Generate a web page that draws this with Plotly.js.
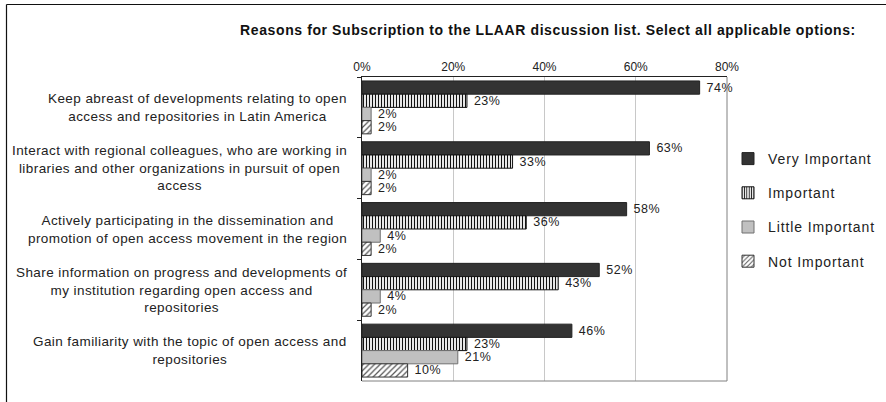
<!DOCTYPE html>
<html>
<head>
<meta charset="utf-8">
<script src="https://cdn.plot.ly/plotly-3.0.1.min.js"></script>
<style>
html,body{margin:0;padding:0;background:#fff;}
#chart{width:886px;height:402px;}
.annotation-text{letter-spacing:0.42px;}
.legendtext{letter-spacing:0.9px;}
.gtitle{letter-spacing:0.6px;}
.bartext{letter-spacing:0.5px;}
</style>
</head>
<body>
<div id="chart"></div>
<script>
const categories = [
  "Keep abreast of developments relating to open<br>access and repositories in Latin America",
  "Interact with regional colleagues, who are working in<br>libraries and other organizations in pursuit of open<br>access",
  "Actively participating in the dissemination and<br>promotion of open access movement in the region",
  "Share information on progress and developments of<br>my institution regarding open access and<br>repositories",
  "Gain familiarity with the topic of open access and<br>repositories"
];
const seriesNames = ["Very Important", "Important", "Little Important", "Not Important"];
const veryImportant = [0.74, 0.63, 0.58, 0.52, 0.46];
const important = [0.23, 0.33, 0.36, 0.43, 0.23];
const littleImportant = [0.02, 0.02, 0.04, 0.04, 0.21];
const notImportant = [0.02, 0.02, 0.02, 0.02, 0.10];
const tickVals = [0, 0.2, 0.4, 0.6, 0.8];
const tickText = ["0%", "20%", "40%", "60%", "80%"];

const keys = categories.map((c, i) => "c" + i);
const font = "Liberation Sans, Arial, sans-serif";

const styles = [
  {color: "#333333", line: {color: "#222222", width: 1}},
  {color: "#ffffff", line: {color: "#111111", width: 1}, pattern: {shape: "|", fgcolor: "#111111", bgcolor: "#ffffff", size: 3, solidity: 0.4}},
  {color: "#c0c0c0", line: {color: "#707070", width: 1}},
  {color: "#ffffff", line: {color: "#333333", width: 1}, pattern: {shape: "/", fgcolor: "#555555", bgcolor: "#ffffff", size: 4, solidity: 0.3}}
];
const values = [veryImportant, important, littleImportant, notImportant];

const traces = values.map((v, k) => ({
  type: "bar",
  orientation: "h",
  name: seriesNames[k],
  y: keys,
  x: v,
  text: v.map(d => " " + Math.round(d * 100) + "%"),
  textposition: "outside",
  cliponaxis: false,
  constraintext: "none",
  textfont: {family: font, size: 12.5, color: "#222"},
  marker: styles[k],
  legendgroup: "g" + k,
  hoverinfo: "x+name"
}));

const annotations = categories.map((c, i) => ({
  xref: "paper", yref: "y",
  x: (349 - 362) / 365, y: keys[i],
  xanchor: "right", yanchor: "middle",
  align: "center",
  text: c,
  showarrow: false,
  font: {family: font, size: 13.5, color: "#222"}
}));

const L = 362, T = 77, W = 365, H = 304;
const px = p => (p - L) / W;
const py = p => 1 - (p - T) / H;

const layout = {
  width: 886, height: 402,
  margin: {l: 362, r: 159, t: 77, b: 21, autoexpand: false},
  paper_bgcolor: "#fff", plot_bgcolor: "#fff",
  barmode: "group",
  bargap: 0.13,
  bargroupgap: 0,
  title: {
    text: "<b>Reasons for Subscription to the LLAAR discussion list. Select all applicable options:</b>",
    font: {family: font, size: 14, color: "#111"},
    x: 548 / 886, xref: "container", xanchor: "center",
    y: 1 - 30 / 402, yref: "container", yanchor: "middle"
  },
  xaxis: {
    side: "top", range: [0, 0.8], tickvals: tickVals, ticktext: tickText,
    showgrid: true, gridcolor: "#c8c8c8", gridwidth: 1,
    zeroline: false, showline: true, linecolor: "#222", linewidth: 1,
    ticks: "", tickfont: {family: font, size: 12, color: "#222"},
    fixedrange: true
  },
  yaxis: {
    type: "category", autorange: "reversed",
    showticklabels: false, ticks: "outside", tickson: "boundaries", ticklen: 4, tickcolor: "#222",
    showline: true, linecolor: "#222", linewidth: 1, showgrid: false, zeroline: false,
    fixedrange: true
  },
  legend: {
    xref: "container", yref: "container",
    x: 728 / 886, xanchor: "left", y: 1 - 143 / 402, yanchor: "top",
    font: {family: font, size: 14, color: "#222"},
    traceorder: "grouped", tracegroupgap: 13,
    bgcolor: "rgba(0,0,0,0)"
  },
  annotations: annotations,
  shapes: [
    {type: "line", xref: "paper", yref: "paper", x0: px(727), x1: px(727), y0: py(77), y1: py(381), line: {color: "#808080", width: 1}},
    {type: "line", xref: "paper", yref: "paper", x0: px(362), x1: px(727), y0: py(381), y1: py(381), line: {color: "#808080", width: 1}},
    {type: "line", xref: "paper", yref: "paper", x0: px(6.5), x1: px(6.5), y0: py(4.5), y1: py(402), line: {color: "#111", width: 1.2}},
    {type: "line", xref: "paper", yref: "paper", x0: px(6.5), x1: px(886), y0: py(4.5), y1: py(4.5), line: {color: "#111", width: 1.2}}
  ],
  showlegend: true
};

Plotly.newPlot("chart", traces, layout, {displayModeBar: false, staticPlot: true});
</script>
</body>
</html>
